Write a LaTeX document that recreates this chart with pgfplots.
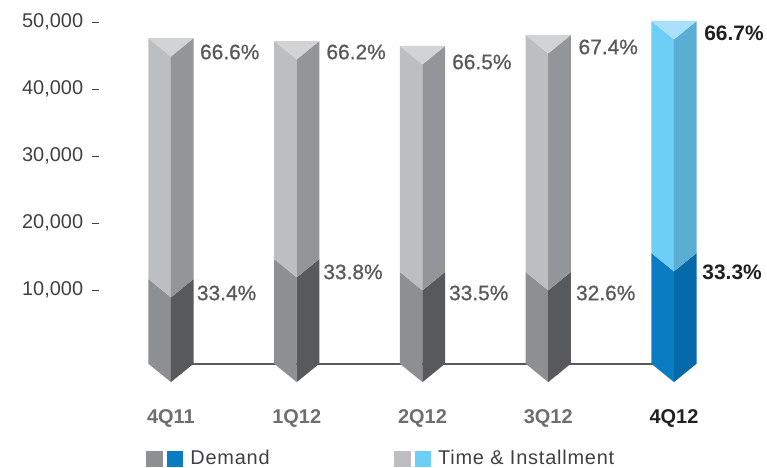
\documentclass[border=0pt]{standalone}
\usepackage{pgfplots}
\pgfplotsset{compat=1.18}
\usepackage{fontspec}
\setmainfont{Liberation Sans}
\newfontfamily\semibold[FakeBold=0.8]{Liberation Sans}
\newfontfamily\legfont[LetterSpace=4]{Liberation Sans}
\definecolor{gLL}{HTML}{8E8F91}
\definecolor{gLR}{HTML}{58595B}
\definecolor{gUL}{HTML}{BCBEC0}
\definecolor{gUR}{HTML}{939598}
\definecolor{gTop}{HTML}{D1D3D4}
\definecolor{bLL}{HTML}{0A7DC2}
\definecolor{bLR}{HTML}{0568A8}
\definecolor{bUL}{HTML}{6DCFF6}
\definecolor{bUR}{HTML}{5AAED3}
\definecolor{bTop}{HTML}{A8E1F9}
\definecolor{tickc}{HTML}{414042}
\definecolor{catc}{HTML}{6D6E71}
\definecolor{pctc}{HTML}{58595B}
\definecolor{darkc}{HTML}{231F20}
\begin{document}
\begin{tikzpicture}
\begin{axis}[
  scale only axis, width=665.2bp, height=381.9bp,
  xmin=-0.57, xmax=4.72, ymin=-4000, ymax=53000,
  axis lines*=left, axis line style={draw=none},
  clip=false,
  xtick={0,1,2,3,4},
  xticklabels={4Q11,1Q12,2Q12,3Q12,\textcolor{darkc}{4Q12}},
  xticklabel style={font=\fontsize{20}{20}\selectfont\bfseries, text=catc, anchor=north, inner sep=0pt, yshift=-18.7bp},
  xtick style={draw=none},
  ytick={10000,20000,30000,40000,50000},
  scaled y ticks=false,
  yticklabel style={font=\fontsize{20}{20}\selectfont, text=tickc, anchor=east, inner sep=0pt, xshift=-9bp},
  ytick style={draw=tickc, line width=0.9bp},
  tick align=outside, major tick length=7bp,
  /pgf/number format/assume math mode=true,
  /pgf/number format/1000 sep={,},
  legend columns=2,
  legend cell align=left,
  legend style={at={(0.0702,-0.195)}, anchor=west, draw=none, fill=none,
    inner sep=0pt, outer sep=0pt, font=\fontsize{20}{20}\legfont, text=tickc,
    nodes={inner sep=0pt},
    /tikz/every odd column/.append style={column sep=8bp},
    /tikz/every even column/.append style={column sep=124bp}},
]
\addlegendimage{legend image code/.code={\fill[gLL] (0bp,-7.5bp) rectangle (16bp,7.5bp); \fill[bLL] (21bp,-7.5bp) rectangle (36bp,7.5bp);}}
\addlegendentry{Demand}
\addlegendimage{legend image code/.code={\fill[gUL] (0bp,-7.5bp) rectangle (16bp,7.5bp); \fill[bUL] (21bp,-7.5bp) rectangle (36bp,7.5bp);}}
\addlegendentry{Time \& Installment}

% baseline
\addplot[forget plot, draw=gLR, line width=1.2bp] coordinates {(0,-1045) (4,-1045)};

% ---- 4Q11: D=11640, T=47600
\addplot[forget plot, fill=gLL, draw=none] coordinates {(-0.18,-1000) (0,-3750) (0,8890) (-0.18,11640)};
\addplot[forget plot, fill=gLR, draw=none] coordinates {(0,-3750) (0.18,-1000) (0.18,11640) (0,8890)};
\addplot[forget plot, fill=gUL, draw=none] coordinates {(-0.18,11640) (0,8890) (0,44850) (-0.18,47600)};
\addplot[forget plot, fill=gUR, draw=none] coordinates {(0,8890) (0.18,11640) (0.18,47600) (0,44850)};
\addplot[forget plot, fill=gTop, draw=none] coordinates {(-0.18,47600) (0.18,47600) (0,44850)};

% ---- 1Q12: D=14630, T=47160
\addplot[forget plot, fill=gLL, draw=none] coordinates {(0.82,-1000) (1,-3750) (1,11880) (0.82,14630)};
\addplot[forget plot, fill=gLR, draw=none] coordinates {(1,-3750) (1.18,-1000) (1.18,14630) (1,11880)};
\addplot[forget plot, fill=gUL, draw=none] coordinates {(0.82,14630) (1,11880) (1,44410) (0.82,47160)};
\addplot[forget plot, fill=gUR, draw=none] coordinates {(1,11880) (1.18,14630) (1.18,47160) (1,44410)};
\addplot[forget plot, fill=gTop, draw=none] coordinates {(0.82,47160) (1.18,47160) (1,44410)};

% ---- 2Q12: D=12690, T=46420
\addplot[forget plot, fill=gLL, draw=none] coordinates {(1.82,-1000) (2,-3750) (2,9940) (1.82,12690)};
\addplot[forget plot, fill=gLR, draw=none] coordinates {(2,-3750) (2.18,-1000) (2.18,12690) (2,9940)};
\addplot[forget plot, fill=gUL, draw=none] coordinates {(1.82,12690) (2,9940) (2,43670) (1.82,46420)};
\addplot[forget plot, fill=gUR, draw=none] coordinates {(2,9940) (2.18,12690) (2.18,46420) (2,43670)};
\addplot[forget plot, fill=gTop, draw=none] coordinates {(1.82,46420) (2.18,46420) (2,43670)};

% ---- 3Q12: D=12690, T=48060
\addplot[forget plot, fill=gLL, draw=none] coordinates {(2.82,-1000) (3,-3750) (3,9940) (2.82,12690)};
\addplot[forget plot, fill=gLR, draw=none] coordinates {(3,-3750) (3.18,-1000) (3.18,12690) (3,9940)};
\addplot[forget plot, fill=gUL, draw=none] coordinates {(2.82,12690) (3,9940) (3,45310) (2.82,48060)};
\addplot[forget plot, fill=gUR, draw=none] coordinates {(3,9940) (3.18,12690) (3.18,48060) (3,45310)};
\addplot[forget plot, fill=gTop, draw=none] coordinates {(2.82,48060) (3.18,48060) (3,45310)};

% ---- 4Q12: D=15520, T=50150
\addplot[forget plot, fill=bLL, draw=none] coordinates {(3.82,-1000) (4,-3750) (4,12770) (3.82,15520)};
\addplot[forget plot, fill=bLR, draw=none] coordinates {(4,-3750) (4.18,-1000) (4.18,15520) (4,12770)};
\addplot[forget plot, fill=bUL, draw=none] coordinates {(3.82,15520) (4,12770) (4,47400) (3.82,50150)};
\addplot[forget plot, fill=bUR, draw=none] coordinates {(4,12770) (4.18,15520) (4.18,50150) (4,47400)};
\addplot[forget plot, fill=bTop, draw=none] coordinates {(3.82,50150) (4.18,50150) (4,47400)};

% ---- percentage labels
\addplot[forget plot, draw=none, nodes near coords, point meta=explicit symbolic,
  nodes near coords style={anchor=west, inner sep=0pt, font=\fontsize{21}{21}\semibold, text=pctc}]
  coordinates {(0.23,45520)[66.6\%] (1.235,45520)[66.2\%] (2.235,44030)[66.5\%] (3.24,46270)[67.4\%]
               (0.205,9550)[33.4\%] (1.21,12690)[33.8\%] (2.21,9550)[33.5\%] (3.22,9550)[32.6\%]};
\addplot[forget plot, draw=none, nodes near coords, point meta=explicit symbolic,
  nodes near coords style={anchor=west, inner sep=0pt, font=\fontsize{21}{21}\selectfont\bfseries, text=darkc}]
  coordinates {(4.24,48360)[66.7\%] (4.225,12690)[33.3\%]};
\end{axis}
\pgfresetboundingbox
\path ([xshift=-99.3bp, yshift=-84.2bp]current axis.south west) rectangle ([xshift=2.5bp, yshift=1.9bp]current axis.north east);
\end{tikzpicture}
\end{document}
